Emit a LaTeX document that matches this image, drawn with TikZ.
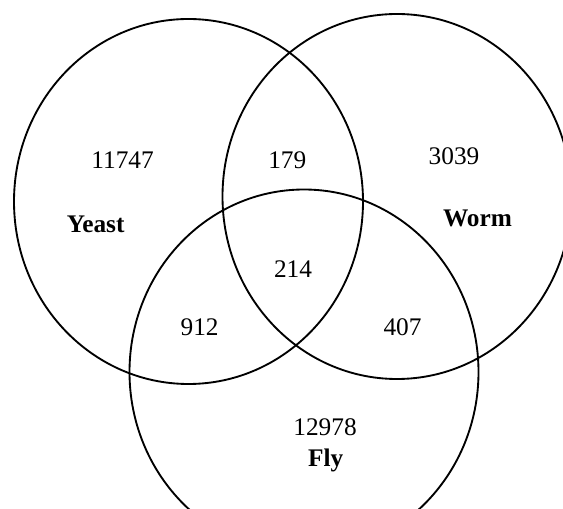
\documentclass[tikz,border=0pt]{standalone}
\usepackage{fontspec}
\setmainfont{Liberation Serif}
\usetikzlibrary{positioning}
\tikzset{setc/.style={draw=black,line width=1.4pt}}
\tikzset{cnt/.style={inner sep=0pt,font=\fontsize{19}{21}\selectfont}}
\tikzset{nam/.style={inner sep=0pt,font=\fontsize{19}{21}\selectfont\bfseries}}

\begin{document}
\begin{tikzpicture}[x=0.75pt,y=-0.75pt]
\useasboundingbox (0,0) rectangle (563,509);
\clip (0,0) rectangle (563,509);
% the three sets
\draw [setc] (188.5,201.5) ellipse [x radius=174.5, y radius=182.5];
\draw [setc] (397,196.5) ellipse [x radius=174.5, y radius=182.5];
\draw [setc] (304,372) ellipse [x radius=174.5, y radius=182.5];

\node [cnt] at (122.6,159.8) (y1) {11747};
\node [nam] at (95.6,224.4) (yeast) {Yeast};
\node [cnt] at (287.3,159.8) (yw) {179};
\node [cnt] at (454,156.2) (w1) {3039};
\node [nam] at (477.5,218.3) (worm) {Worm};
\node [cnt] at (293,269.3) (ywf) {214};
\node [cnt] at (199.6,326.8) (yf) {912};
\node [cnt] at (402.5,326.8) (wf) {407};
\node [cnt] at (325,427.3) (f1) {12978};
\node [nam] at (325.7,460) (fly) {Fly};
\end{tikzpicture}
\end{document}
